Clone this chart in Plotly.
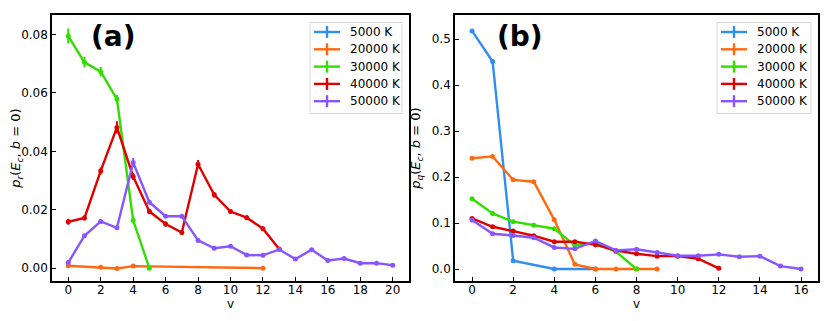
import plotly.graph_objects as go

# ── Data: panel (a) p_r ─────────────────────────────────────────────────────
TEMPS = ["5000 K", "20000 K", "30000 K", "40000 K", "50000 K"]
COLORS = ["#2f8ef0", "#ff6a10", "#33dd00", "#e00000", "#8855ff"]

a_v_20k = [0, 2, 3, 4, 12]
a_p_20k = [0.0008, 0.0003, -0.0001, 0.0007, 0.0]
a_e_20k = [0.0003, 0.0003, 0.0003, 0.0003, 0.0002]

a_v_30k = [0, 1, 2, 3, 4, 5]
a_p_30k = [0.0795, 0.0705, 0.0673, 0.0579, 0.0164, 0.0]
a_e_30k = [0.0026, 0.0018, 0.0016, 0.0014, 0.0010, 0.0002]

a_v_40k = list(range(0, 14))
a_p_40k = [0.0159, 0.0172, 0.0333, 0.0482, 0.0314, 0.0194, 0.0151,
           0.0122, 0.0356, 0.0251, 0.0194, 0.0173, 0.0135, 0.0066]
a_e_40k = [0.0010, 0.0009, 0.0012, 0.0021, 0.0012, 0.0009, 0.0009,
           0.0008, 0.0014, 0.0010, 0.0008, 0.0008, 0.0008, 0.0005]

a_v_50k = list(range(0, 21))
a_p_50k = [0.0019, 0.0111, 0.0160, 0.0138, 0.0362, 0.0226, 0.0178,
           0.0178, 0.0095, 0.0068, 0.0075, 0.0045, 0.0044, 0.0064,
           0.0031, 0.0063, 0.0026, 0.0033, 0.0017, 0.0017, 0.0010]
a_e_50k = [0.0004, 0.0006, 0.0007, 0.0006, 0.0015, 0.0008, 0.0006,
           0.0006, 0.0004, 0.0004, 0.0004, 0.0003, 0.0003, 0.0003,
           0.0003, 0.0003, 0.0002, 0.0002, 0.0002, 0.0002, 0.0002]

# ── Data: panel (b) p_q ─────────────────────────────────────────────────────
b_v_5k = [0, 1, 2, 4, 6]
b_p_5k = [0.518, 0.4515, 0.018, 0.0, 0.0]

b_v_20k = list(range(0, 10))
b_p_20k = [0.241, 0.245, 0.194, 0.190, 0.107, 0.0102, 0.0, 0.0, 0.0, 0.0]

b_v_30k = list(range(0, 9))
b_p_30k = [0.153, 0.121, 0.103, 0.095, 0.0877, 0.0515, 0.056, 0.0377, 0.0]

b_v_40k = list(range(0, 13))
b_p_40k = [0.110, 0.092, 0.0826, 0.0725, 0.0594, 0.0594, 0.053,
           0.040, 0.0333, 0.028, 0.028, 0.0225, 0.0015]

b_v_50k = list(range(0, 17))
b_p_50k = [0.1065, 0.0768, 0.073, 0.068, 0.047, 0.044, 0.061, 0.0406,
           0.043, 0.036, 0.029, 0.029, 0.032, 0.0268, 0.028, 0.0065, 0.0]

FONT = "DejaVu Sans, sans-serif"
W, H, OFF = 823, 313, 8   # page body keeps an 8 px margin


def px(x, y):
    """window pixel -> paper coords"""
    return (x - OFF) / W, 1 - (y - OFF) / H


fig = go.Figure()


def add_series(x, y, err, color, xaxis, yaxis):
    fig.add_trace(go.Scatter(
        x=x, y=y,
        mode="lines+markers",
        line=dict(color=color, width=2.4),
        marker=dict(color=color, size=5),
        error_y=dict(type="data", array=err, visible=err is not None,
                     color=color, thickness=2, width=0),
        xaxis=xaxis, yaxis=yaxis,
        showlegend=False,
        hoverinfo="skip",
    ))


# panel (a)
add_series(a_v_20k, a_p_20k, a_e_20k, COLORS[1], "x", "y")
add_series(a_v_30k, a_p_30k, a_e_30k, COLORS[2], "x", "y")
add_series(a_v_40k, a_p_40k, a_e_40k, COLORS[3], "x", "y")
add_series(a_v_50k, a_p_50k, a_e_50k, COLORS[4], "x", "y")

# panel (b)
add_series(b_v_5k, b_p_5k, None, COLORS[0], "x2", "y2")
add_series(b_v_20k, b_p_20k, None, COLORS[1], "x2", "y2")
add_series(b_v_30k, b_p_30k, None, COLORS[2], "x2", "y2")
add_series(b_v_40k, b_p_40k, None, COLORS[3], "x2", "y2")
add_series(b_v_50k, b_p_50k, None, COLORS[4], "x2", "y2")

# ── hand-drawn legends (matplotlib errorbar style) ──────────────────────────
shapes, annotations = [], []
for box_l, box_r in [(310, 402), (717, 811)]:
    x0, y0 = px(box_l, 22.5)
    x1, y1 = px(box_r, 113.5)
    shapes.append(dict(type="rect", xref="paper", yref="paper",
                       x0=x0, x1=x1, y0=y1, y1=y0,
                       fillcolor="rgba(255,255,255,0.85)",
                       line=dict(color="#d4d4d4", width=1)))
    for i, (name, color) in enumerate(zip(TEMPS, COLORS)):
        yc = 32 + i * 17.3
        lx0, ly = px(box_l + 4, yc)
        lx1, _ = px(box_l + 30, yc)
        mx, ytop = px(box_l + 17, yc - 6)
        _, ybot = px(box_l + 17, yc + 6)
        shapes.append(dict(type="line", xref="paper", yref="paper",
                           x0=lx0, x1=lx1, y0=ly, y1=ly,
                           line=dict(color=color, width=2.4)))
        shapes.append(dict(type="line", xref="paper", yref="paper",
                           x0=mx, x1=mx, y0=ybot, y1=ytop,
                           line=dict(color=color, width=2.4)))
        tx, ty = px(box_l + 38, yc)
        annotations.append(dict(text=name, x=tx, y=ty, xref="paper", yref="paper",
                                xanchor="left", yanchor="middle", showarrow=False,
                                font=dict(family=FONT, size=12, color="black")))

for label, cx in [("<b>(a)</b>", 114), ("<b>(b)</b>", 519.7)]:
    ax, ay = px(cx, 36)
    annotations.append(dict(text=label, x=ax, y=ay, xref="paper", yref="paper",
                            xanchor="center", yanchor="middle", showarrow=False,
                            font=dict(family=FONT, size=28, color="black")))

axis_common = dict(
    showline=True, linecolor="black", linewidth=1.5, mirror=True,
    ticks="inside", ticklen=4, tickwidth=1.2, tickcolor="black",
    showgrid=False, zeroline=False, automargin=False,
    tickfont=dict(family=FONT, size=12, color="black"),
)

fig.update_layout(
    template="none",
    width=W, height=H,
    margin=dict(l=0, r=0, t=0, b=0),
    paper_bgcolor="white", plot_bgcolor="white",
    font=dict(family=FONT, color="black"),
    showlegend=False,
    xaxis=dict(domain=[0.0535, 0.4872], range=[-1, 21], dtick=2,
               anchor="y", ticklabelstandoff=-3,
               title=dict(text="v", font=dict(family=FONT, size=12), standoff=0),
               **axis_common),
    yaxis=dict(domain=[0.1278, 0.9767], range=[-0.0044, 0.0866],
               tickvals=[0, 0.02, 0.04, 0.06, 0.08],
               ticktext=["0.00", "0.02", "0.04", "0.06", "0.08"],
               anchor="x",
               title=dict(text="<i>p<sub>r</sub></i>(<i>E<sub>c</sub></i>, <i>b</i> = 0)",
                          font=dict(family=FONT, size=13), standoff=8),
               **axis_common),
    xaxis2=dict(domain=[0.5431, 0.9846], range=[-0.83, 16.84], dtick=2,
                anchor="y2", ticklabelstandoff=-3,
                title=dict(text="v", font=dict(family=FONT, size=12), standoff=0),
                **axis_common),
    yaxis2=dict(domain=[0.1278, 0.9767], range=[-0.026, 0.552],
                tickvals=[0, 0.1, 0.2, 0.3, 0.4, 0.5],
                ticktext=["0.0", "0.1", "0.2", "0.3", "0.4", "0.5"],
                anchor="x2",
                title=dict(text="<i>p<sub>q</sub></i>(<i>E<sub>c</sub></i>, <i>b</i> = 0)",
                           font=dict(family=FONT, size=13), standoff=8),
                **axis_common),
    shapes=shapes,
    annotations=annotations,
)

fig.write_html("out.html")
